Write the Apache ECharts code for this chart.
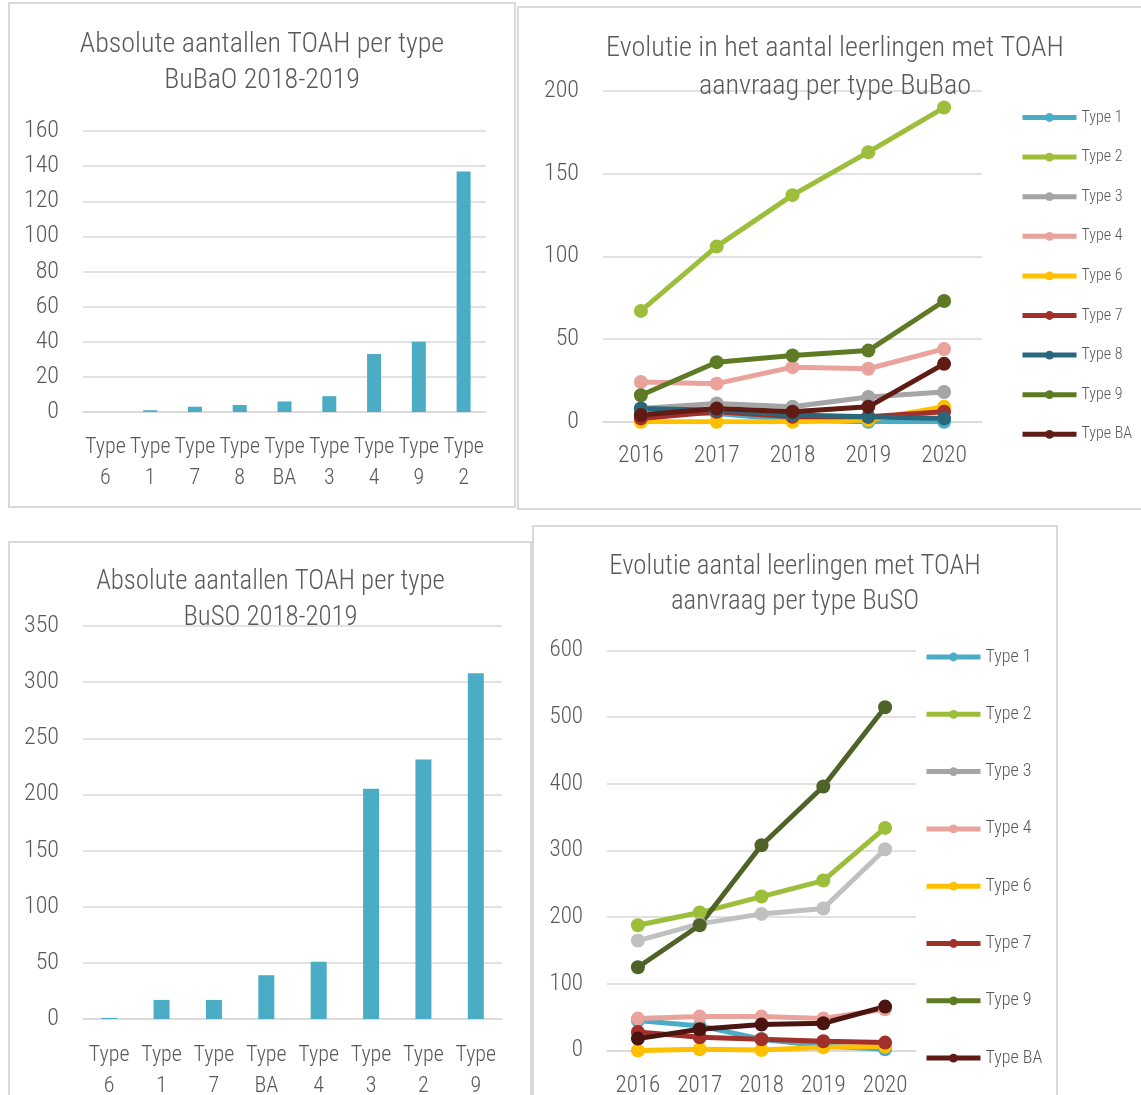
<!DOCTYPE html>
<html>
<head>
<meta charset="utf-8">
<script src="https://cdn.jsdelivr.net/npm/echarts@6/dist/echarts.min.js"></script>
<style>
  html, body { margin: 0; padding: 0; background: #ffffff; }
  #chart { width: 1141px; height: 1095px; }
</style>
</head>
<body>
<div id="chart"></div>
<script>
// ---- Absolute aantallen 2018-2019 (staafdiagrammen) ----
const bubaoBarCategories = ['Type\n6', 'Type\n1', 'Type\n7', 'Type\n8', 'Type\nBA', 'Type\n3', 'Type\n4', 'Type\n9', 'Type\n2'];
const bubaoBarValues = [0, 1, 3, 4, 6, 9, 33, 40, 137];

const busoBarCategories = ['Type\n6', 'Type\n1', 'Type\n7', 'Type\nBA', 'Type\n4', 'Type\n3', 'Type\n2', 'Type\n9'];
const busoBarValues = [1, 17, 17, 39, 51, 205, 231, 308];

// ---- Evolutie per schooljaar (lijndiagrammen) ----
const years = ['2016', '2017', '2018', '2019', '2020'];

const bubaoType1 = [6, 5, 1, 0, 0];
const bubaoType2 = [67, 106, 137, 163, 190];
const bubaoType3 = [8, 11, 9, 15, 18];
const bubaoType4 = [24, 23, 33, 32, 44];
const bubaoType6 = [0, 0, 0, 1, 9];
const bubaoType7 = [2, 6, 3, 3, 6];
const bubaoType8 = [8, 7, 4, 3, 2];
const bubaoType9 = [16, 36, 40, 43, 73];
const bubaoTypeBA = [4, 8, 6, 9, 35];

const busoType1 = [45, 37, 17, 7, 2];
const busoType2 = [188, 207, 231, 255, 334];
const busoType3 = [165, 190, 205, 213, 302];
const busoType4 = [48, 51, 51, 48, 62];
const busoType6 = [0, 2, 1, 5, 6];
const busoType7 = [28, 20, 17, 14, 12];
const busoType9 = [125, 188, 308, 396, 515];
const busoTypeBA = [18, 32, 39, 41, 66];

const FONT = "'Roboto Condensed', 'Roboto', sans-serif";
const WEIGHT = 300;
const TEXT = '#595959';
const GRID_LINE = '#d9d9d9';
const BAR_COLOR = '#4bacc6';

const bubaoLines = [
  { name: 'Type 1', data: bubaoType1, color: '#4bacc6' },
  { name: 'Type 2', data: bubaoType2, color: '#9dbe3b' },
  { name: 'Type 3', data: bubaoType3, color: '#a5a5a5' },
  { name: 'Type 4', data: bubaoType4, color: '#e9a29c' },
  { name: 'Type 6', data: bubaoType6, color: '#ffc000' },
  { name: 'Type 7', data: bubaoType7, color: '#a2302a' },
  { name: 'Type 8', data: bubaoType8, color: '#2a677b' },
  { name: 'Type 9', data: bubaoType9, color: '#5f7a25' },
  { name: 'Type BA', data: bubaoTypeBA, color: '#5f1b14' }
];

const busoLines = [
  { name: 'Type 1', data: busoType1, color: '#4bacc6' },
  { name: 'Type 2', data: busoType2, color: '#9dbe3b' },
  { name: 'Type 3', data: busoType3, color: '#c0c0c0' },
  { name: 'Type 4', data: busoType4, color: '#e9a29c' },
  { name: 'Type 6', data: busoType6, color: '#ffc000' },
  { name: 'Type 7', data: busoType7, color: '#a2302a' },
  { name: 'Type 9', data: busoType9, color: '#4f6228' },
  { name: 'Type BA', data: busoTypeBA, color: '#4a1510' }
];

function valueAxis(gridIndex, max, interval, fontSize, margin) {
  return {
    type: 'value', gridIndex, min: 0, max, interval,
    axisLine: { show: false }, axisTick: { show: false },
    splitLine: { lineStyle: { color: GRID_LINE, width: 1.5 } },
    axisLabel: { color: TEXT, fontFamily: FONT, fontWeight: WEIGHT, fontSize, margin }
  };
}

function categoryAxis(gridIndex, data, fontSize, margin, lineHeight) {
  return {
    type: 'category', gridIndex, data,
    axisLine: { show: true, lineStyle: { color: GRID_LINE, width: 1.5 } },
    axisTick: { show: false },
    axisLabel: { color: TEXT, fontFamily: FONT, fontWeight: WEIGHT, fontSize, margin, lineHeight, interval: 0 }
  };
}

function gridBox(left, right, top, bottom) {
  // fixed plot rectangles; labels may run past the page edge
  return { left, right, top, bottom, containLabel: false, outerBoundsMode: 'none' };
}

function panel(x, y, w, h) {
  return {
    type: 'rect', z: -10, silent: true,
    shape: { x, y, width: w, height: h },
    style: { fill: '#ffffff', stroke: '#d9d9d9', lineWidth: 2 }
  };
}

function lineSeries(def, axisIndex) {
  return {
    type: 'line', name: def.name, data: def.data,
    xAxisIndex: axisIndex, yAxisIndex: axisIndex,
    symbol: 'circle', symbolSize: 14, showSymbol: true,
    lineStyle: { color: def.color, width: 5 },
    itemStyle: { color: def.color },
    emphasis: { disabled: true }
  };
}

function titleBlock(text, cx, top, fontSize, lineHeight) {
  return {
    text, left: cx, top, textAlign: 'center', padding: 0,
    textStyle: { color: TEXT, fontFamily: FONT, fontWeight: WEIGHT, fontSize, lineHeight }
  };
}

function legendBlock(names, left, top, gap, fontSize, lineHeight) {
  return {
    orient: 'vertical', left, top, data: names, padding: 0,
    itemWidth: 54, itemHeight: 11, itemGap: gap,
    lineStyle: { width: 5 },
    textStyle: { color: TEXT, fontFamily: FONT, fontWeight: WEIGHT, fontSize, lineHeight },
    selectedMode: false
  };
}

const chart = echarts.init(document.getElementById('chart'), null, { renderer: 'canvas' });

chart.setOption({
  animation: false,
  backgroundColor: '#ffffff',
  graphic: [
    panel(9, 3, 506, 504),
    panel(518, 7, 640, 502),
    panel(9, 542, 522, 570),
    panel(533, 526, 524, 590)
  ],
  title: [
    titleBlock('Absolute aantallen TOAH per type\nBuBaO 2018-2019', 262, 27, 28, 36),
    titleBlock('Evolutie in het aantal leerlingen met TOAH\naanvraag per type BuBao', 835, 30, 28.2, 38),
    titleBlock('Absolute aantallen TOAH per type\nBuSO 2018-2019', 270.5, 564, 26.8, 36.5),
    titleBlock('Evolutie aantal leerlingen met TOAH\naanvraag per type BuSO', 795, 550, 26.8, 35)
  ],
  legend: [
    legendBlock(bubaoLines.map(d => d.name), 1020, 108.5, 21.6, 16, 18),
    legendBlock(busoLines.map(d => d.name), 924, 647, 37.3, 18, 20)
  ],
  grid: [
    gridBox(83, 1141 - 486, 131, 1095 - 412),
    gridBox(603, 1141 - 982, 91, 1095 - 421.7),
    gridBox(83, 1141 - 502, 626, 1095 - 1019),
    gridBox(607, 1141 - 916, 650.5, 1095 - 1050.6)
  ],
  xAxis: [
    categoryAxis(0, bubaoBarCategories, 22, 20, 31),
    categoryAxis(1, years, 23.5, 22, 24),
    categoryAxis(2, busoBarCategories, 22, 21, 31),
    categoryAxis(3, years, 23, 24, 24)
  ],
  yAxis: [
    valueAxis(0, 160, 20, 24, 24),
    valueAxis(1, 200, 50, 24, 24),
    valueAxis(2, 350, 50, 24, 24),
    valueAxis(3, 600, 100, 23, 24)
  ],
  series: [
    {
      type: 'bar', name: 'BuBaO 2018-2019', data: bubaoBarValues,
      xAxisIndex: 0, yAxisIndex: 0, barWidth: 14,
      itemStyle: { color: BAR_COLOR }, emphasis: { disabled: true }
    },
    {
      type: 'bar', name: 'BuSO 2018-2019', data: busoBarValues,
      xAxisIndex: 2, yAxisIndex: 2, barWidth: 16,
      itemStyle: { color: BAR_COLOR }, emphasis: { disabled: true }
    },
    ...bubaoLines.map(d => lineSeries(d, 1)),
    ...busoLines.map(d => lineSeries(d, 3))
  ]
});
</script>
</body>
</html>
